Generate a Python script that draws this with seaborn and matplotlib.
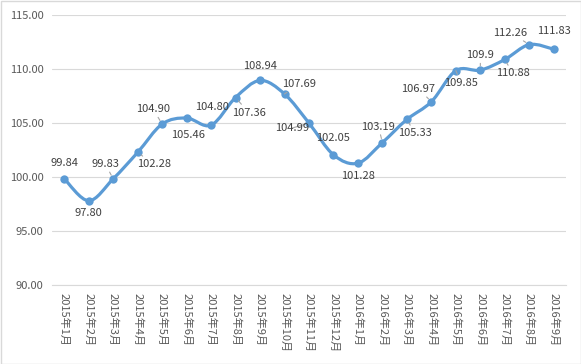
import numpy as np
import pandas as pd
import matplotlib
matplotlib.use("Agg")
import matplotlib.pyplot as plt
from matplotlib.path import Path
from matplotlib.patches import PathPatch, Rectangle
import seaborn as sns

months = ["2015年1月", "2015年2月", "2015年3月", "2015年4月", "2015年5月", "2015年6月",
          "2015年7月", "2015年8月", "2015年9月", "2015年10月", "2015年11月", "2015年12月",
          "2016年1月", "2016年2月", "2016年3月", "2016年4月", "2016年5月", "2016年6月",
          "2016年7月", "2016年8月", "2016年9月"]
values = [99.84, 97.80, 99.83, 102.28, 104.90, 105.46, 104.80, 107.36, 108.94, 107.69,
          104.99, 102.05, 101.28, 103.19, 105.33, 106.97, 109.85, 109.9, 110.88, 112.26, 111.83]
value_labels = ["99.84", "97.80", "99.83", "102.28", "104.90", "105.46", "104.80", "107.36",
                "108.94", "107.69", "104.99", "102.05", "101.28", "103.19", "105.33", "106.97",
                "109.85", "109.9", "110.88", "112.26", "111.83"]

# label placement (pixels, y down) and whether Excel drew a leader line
label_offsets = [(0, -16), (0, 12), (-8, -15), (16, 12), (-9, -15), (1, 17), (1, -18),
                 (13, 15), (0, -14), (15, -10), (-17, 5), (0, -17), (0, 13), (-4, -16),
                 (8, 14), (-13, -13), (5, 12), (0, -15), (8, 14), (-19, -12), (0, -18)]
leaders = [0, 0, 1, 1, 1, 0, 0, 1, 0, 1, 1, 0, 0, 1, 1, 1, 1, 1, 1, 1, 0]

BLUE = "#5B9BD5"
TEXT = "#404040"
AXIS_TEXT = "#595959"
GRID = "#D9D9D9"

sns.set_theme(style="white")
plt.rcParams['font.family'] = ['Noto Sans CJK SC', 'DejaVu Sans']

df = pd.DataFrame({"month": months, "value": values})
df["pos"] = np.arange(len(df))

fig = plt.figure(figsize=(5.81, 3.64), dpi=100)
fig.patch.set_facecolor("white")
ax = fig.add_axes([52 / 581, 1 - 285 / 364, (566 - 52) / 581, 270 / 364])

# smoothed line like Excel (cubic bezier through the points)
pts = df[["pos", "value"]].to_numpy(dtype=float)
n = len(pts)
verts = [pts[0]]
codes = [Path.MOVETO]
for i in range(n - 1):
    p_prev = pts[max(i - 1, 0)]
    p_next2 = pts[min(i + 2, n - 1)]
    c1 = pts[i] + (pts[i + 1] - p_prev) / 6
    c2 = pts[i + 1] - (p_next2 - pts[i]) / 6
    verts += [c1, c2, pts[i + 1]]
    codes += [Path.CURVE4] * 3
ax.add_patch(PathPatch(Path(verts, codes), facecolor="none", edgecolor=BLUE,
                       lw=2.3, capstyle="round", joinstyle="round", zorder=3))

sns.scatterplot(data=df, x="pos", y="value", ax=ax, color=BLUE, s=36,
                edgecolor=BLUE, linewidth=0, zorder=4)

for i, row in df.iterrows():
    dx, dy = label_offsets[i]
    arrow = None
    if leaders[i]:
        arrow = dict(arrowstyle="-", color="#A6A6A6", lw=0.8, shrinkA=0, shrinkB=3)
    ax.annotate(value_labels[i], (row["pos"], row["value"]), xytext=(dx, -dy),
                textcoords="offset pixels", ha="center", va="center",
                fontsize=8, color=TEXT, arrowprops=arrow, zorder=5)

ax.set_xlim(-0.5, n - 0.5)
ax.set_ylim(90, 115)
ax.set_yticks(np.arange(90, 116, 5))
ax.set_yticklabels([f"{v:.2f}" for v in np.arange(90, 116, 5)])
ax.set_xticks(df["pos"])
ax.set_xticklabels(months, rotation=270, ha="center", va="top")
ax.set_xticks(np.arange(-0.5, n, 1), minor=True)
ax.tick_params(axis="x", which="major", length=0, pad=6, labelsize=8, colors=AXIS_TEXT)
ax.tick_params(axis="x", which="minor", length=5, width=0.8, color=GRID, direction="out")
ax.tick_params(axis="y", length=0, pad=6, labelsize=8, colors=AXIS_TEXT)
ax.grid(axis="y", color=GRID, lw=0.8)
ax.set_axisbelow(True)
for side in ["left", "right", "top"]:
    ax.spines[side].set_visible(False)
ax.spines["bottom"].set_color(GRID)
ax.spines["bottom"].set_linewidth(0.8)
ax.set_xlabel("")
ax.set_ylabel("")

fig.patches.append(Rectangle((0.5 / 581, 0.5 / 364), 1 - 1 / 581, 1 - 1 / 364,
                             transform=fig.transFigure, fill=False,
                             edgecolor=GRID, lw=1))

fig.savefig("out.png", dpi=100)
